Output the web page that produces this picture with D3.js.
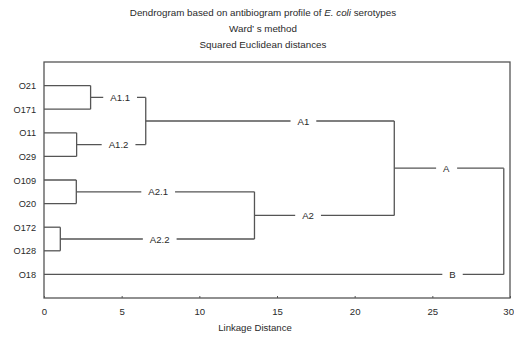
<!DOCTYPE html>
<html><head><meta charset="utf-8">
<script src="https://cdn.jsdelivr.net/npm/d3@7"></script>
<style>body{margin:0;background:#fff}svg{display:block}text{font-family:"Liberation Sans",Arial,sans-serif;fill:#2a2a2a}</style>
</head><body><svg id="c" width="514" height="337"></svg>
<script>
const leaves = ["O21","O171","O11","O29","O109","O20","O172","O128","O18"];
const clusterIds = ["A1.1","A1.2","A2.1","A2.2","A1","A2","A","root"];
const clusterChildren = [["O21","O171"],["O11","O29"],["O109","O20"],["O172","O128"],["A1.1","A1.2"],["A2.1","A2.2"],["A1","A2"],["A","O18"]];
const clusterDistances = [3.0, 2.1, 2.08, 1.05, 6.55, 13.55, 22.55, 29.6];
const labelNodes = ["A1.1","A1.2","A2.1","A2.2","A1","A2","A","O18"];
const labelTexts = ["A1.1","A1.2","A2.1","A2.2","A1","A2","A","B"];
const labelPos = [4.9, 4.8, 7.35, 7.45, 16.7, 17.0, 25.9, 26.3];
const xTicks = [0,5,10,15,20,25,30];
const titleLines = ["Dendrogram based on antibiogram profile of ", "Ward\u2019 s method", "Squared Euclidean distances"];

const svg = d3.select("#c");
const L = 44, R = 510, T = 62, B = 298;
const x = d3.scaleLinear().domain([0,30]).range([L,R]);
const y = d3.scaleLinear().domain([0,10]).range([T,B]);
const col = "#555";
const fs = "9.6px";

// build tree
const nodes = {};
leaves.forEach((n,i)=> nodes[n] = {id:n, dist:0, order:i+1});
clusterIds.forEach((id,i)=> nodes[id] = {id, dist:clusterDistances[i], children:clusterChildren[i].map(c=>nodes[c])});
const root = d3.hierarchy(nodes["root"]);
root.eachAfter(d=>{
  d.py = d.children ? d3.mean(d.children, c=>c.py) : y(d.data.order);
});

// title
const t1 = svg.append("text").attr("x",263).attr("y",16).attr("text-anchor","middle").style("font-size","9.8px");
t1.append("tspan").text(titleLines[0]);
t1.append("tspan").style("font-style","italic").text("E. coli");
t1.append("tspan").text(" serotypes");
svg.append("text").attr("x",263).attr("y",32).attr("text-anchor","middle").style("font-size","9.8px").text(titleLines[1]);
svg.append("text").attr("x",263).attr("y",48).attr("text-anchor","middle").style("font-size","9.8px").text(titleLines[2]);

// frame
svg.append("rect").attr("x",L).attr("y",T).attr("width",R-L).attr("height",B-T)
  .attr("fill","none").attr("stroke",col).attr("stroke-width",1.3);

// axis
const ax = svg.append("g").attr("transform",`translate(0,${B})`)
  .call(d3.axisBottom(x).tickValues(xTicks).tickSize(-2).tickPadding(10));
ax.select(".domain").remove();
ax.selectAll("line").attr("stroke",col);
ax.selectAll("text").style("font-size",fs).style("fill","#2a2a2a").attr("font-family",null);
ax.selectAll(".tick").filter(d=>d===30).select("text").attr("text-anchor","end").attr("x",3.5);
svg.append("text").attr("x",255).attr("y",331).attr("text-anchor","middle").style("font-size",fs).text("Linkage Distance");

// dendrogram lines
const g = svg.append("g").attr("stroke",col).attr("stroke-width",1.3).attr("fill","none");
root.descendants().forEach(d=>{
  if (d.parent) {
    g.append("line").attr("x1",x(d.data.dist)).attr("x2",x(d.parent.data.dist)).attr("y1",d.py).attr("y2",d.py);
  }
  if (d.children) {
    const ys = d.children.map(c=>c.py);
    g.append("line").attr("x1",x(d.data.dist)).attr("x2",x(d.data.dist)).attr("y1",d3.min(ys)).attr("y2",d3.max(ys));
  }
});

// leaf labels
root.leaves().forEach(d=>{
  svg.append("text").attr("x",36).attr("y",d.py+3.5).attr("text-anchor","end").style("font-size","9.2px").text(d.data.id);
});

// cluster labels
labelNodes.forEach((id,i)=>{
  const nd = root.descendants().find(d=>d.data.id===id);
  const lt = svg.append("text").attr("x",x(labelPos[i])).attr("y",nd.py+3.5).attr("text-anchor","middle").style("font-size",fs).text(labelTexts[i]);
  const bb = lt.node().getBBox();
  svg.insert("rect", function(){return lt.node();}).attr("x",bb.x-7).attr("y",nd.py-3).attr("width",bb.width+14).attr("height",6).attr("fill","#fff");
});
</script></body></html>
